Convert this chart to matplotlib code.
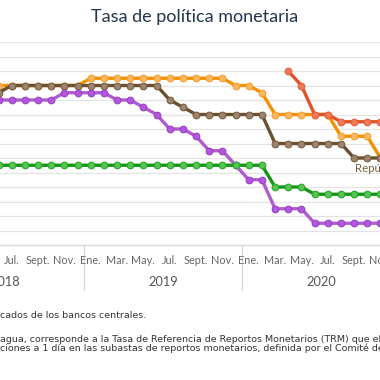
import matplotlib
matplotlib.use("Agg")
import matplotlib.pyplot as plt
import numpy as np

plt.rcParams['font.family'] = ['Lato', 'DejaVu Sans']

# month index: 0 = Ene. 2018
months = list(range(5, 35))

# values by month from m=5 (Jun 2018) to m=34 (Nov 2020); None = no data
honduras = [5.5, 5.5, 5.5, 5.5, 5.5, 5.5, 5.5,
            5.75, 5.75, 5.75, 5.75, 5.75, 5.75, 5.75, 5.75, 5.75, 5.75, 5.75,
            5.5, 5.5, 5.25, 4.5, 4.5, 4.5, 4.5, 4.5, 3.75, 3.75, 3.75, 3.0]
rep_dom = [5.25, 5.5, 5.5, 5.5, 5.5, 5.5, 5.5, 5.5, 5.5, 5.5, 5.5, 5.5, 5.5,
           5.0, 4.75, 4.5, 4.5, 4.5, 4.5, 4.5, 4.5,
           3.5, 3.5, 3.5, 3.5, 3.5, 3.5, 3.0, 3.0, 3.0]
costa_rica = [5.0, 5.0, 5.0, 5.0, 5.0, 5.25, 5.25, 5.25, 5.25, 5.0, 5.0, 4.75, 4.5,
              4.0, 4.0, 3.75, 3.25, 3.25, 2.75, 2.25, 2.25,
              1.25, 1.25, 1.25, 0.75, 0.75, 0.75, 0.75, 0.75, 0.75]
guatemala = [2.75] * 21 + [2.0, 2.0, 2.0, 1.75, 1.75, 1.75, 1.75, 1.75, 1.75]
nicaragua = [None] * 22 + [6.0, 5.5, 4.5, 4.5, 4.25, 4.25, 4.25, 4.25]

month_names = ['Ene.', 'Feb.', 'Mar.', 'Abr.', 'May.', 'Jun.',
               'Jul.', 'Ago.', 'Sept.', 'Oct.', 'Nov.', 'Dic.']
label_months = list(range(6, 35, 2))
years = ['2018', '2019', '2020']

title = 'Tasa de política monetaria'
series_label = 'República Dominicana'
note1 = 'cados de los bancos centrales.'
note2 = 'agua, corresponde a la Tasa de Referencia de Reportos Monetarios (TRM) que el BCN utiliza'
note3 = 'ciones a 1 día en las subastas de reportos monetarios, definida por el Comité de Operaciones'

W = H = 380
fig = plt.figure(figsize=(3.8, 3.8), dpi=100)
ax_bottom_px = 245
ax_top_px = 42
ax = fig.add_axes([0, (H - ax_bottom_px) / H, 1, (ax_bottom_px - ax_top_px) / H])

px_per_month = 13.17
x0 = 6 - 11.7 / px_per_month
ax.set_xlim(x0, x0 + W / px_per_month)
ax.set_ylim(0, 7)

for v in np.arange(0.5, 7.01, 0.5):
    ax.axhline(v, color='#e4e4e4', lw=0.9, zorder=0)
ax.axhline(0, color='#dadada', lw=1.0, zorder=0, clip_on=False)

for s in ax.spines.values():
    s.set_visible(False)
ax.set_xticks([])
ax.set_yticks([])

def draw(vals, line_c, face_c, edge_c, z):
    xs = [m for m, v in zip(months, vals) if v is not None]
    ys = [v for v in vals if v is not None]
    ax.plot(xs, ys, color=line_c, lw=2.4, zorder=z, solid_joinstyle='round',
            marker='o', ms=4.8, mfc=face_c, mec=edge_c, mew=0.8)

draw(honduras, '#f39200', '#f8b865', '#f7a030', 2)
draw(rep_dom, '#6b5030', '#9c8470', '#7a6040', 3)
draw(costa_rica, '#b05ccf', '#b356e0', '#9a45c0', 4)
draw(guatemala, '#159615', '#55c455', '#2aa82a', 5)
draw(nicaragua, '#e0532a', '#f07a55', '#e86040', 6)

tr = ax.get_xaxis_transform()
h_ax = ax_bottom_px - ax_top_px
for m in label_months:
    ax.text(m, -16 / h_ax, month_names[m % 12], transform=tr, ha='center', va='center',
            fontsize=7.8, color='#666666', clip_on=False)
for i, y in enumerate(years):
    ax.text(5.5 + 12 * i, -37 / h_ax, y, transform=tr, ha='center', va='center',
            fontsize=9.2, color='#555555', clip_on=False)
for b in [-0.5, 11.5, 23.5, 35.5]:
    ax.plot([b, b], [0, -45 / h_ax], transform=tr, color='#d8d8d8', lw=0.9, clip_on=False)

ax.text(x0 + 355 / px_per_month, (ax_bottom_px - 168) / 29, series_label,
        ha='left', va='center', fontsize=8.2, color='#7a6040', clip_on=False)

fig.text(195 / W, 1 - 17 / H, title, ha='center', va='center', fontsize=13, color='#23344f')
note_font = ['DejaVu Sans']
fig.text(0, 1 - 315 / H, note1, ha='left', va='center', fontsize=6.8, color='#333333', family=note_font)
fig.text(0, 1 - 339 / H, note2, ha='left', va='center', fontsize=6.8, color='#333333', family=note_font)
fig.text(0, 1 - 348.5 / H, note3, ha='left', va='center', fontsize=6.8, color='#333333', family=note_font)

fig.savefig('out.png', dpi=100, facecolor='white')
